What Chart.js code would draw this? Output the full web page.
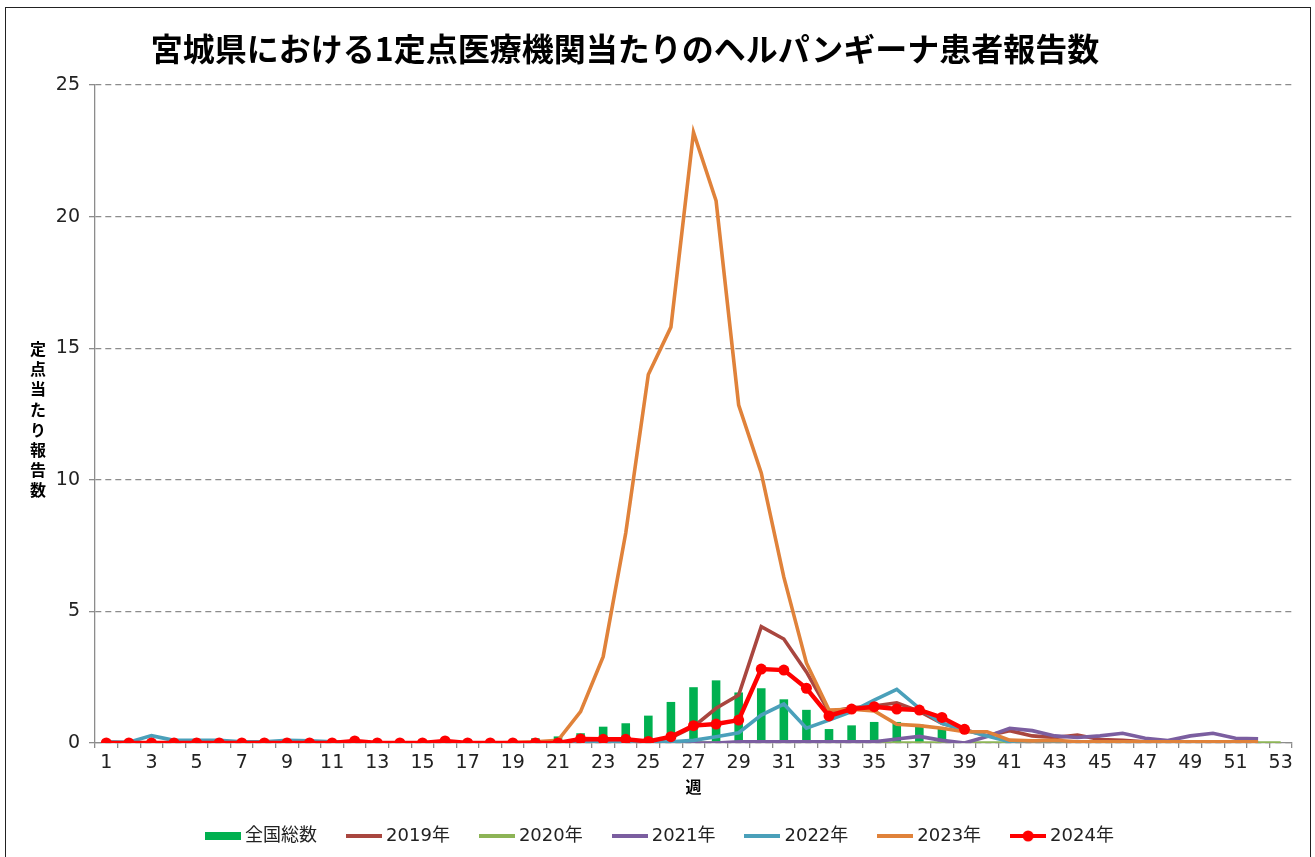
<!DOCTYPE html>
<html>
<head>
<meta charset="utf-8">
<script src="https://cdn.jsdelivr.net/npm/chart.js@4.4.0/dist/chart.umd.min.js"></script>
<style>
  body { margin: 0; background: #fff; }
  #wrap { position: relative; width: 1315px; height: 857px; overflow: hidden; }
  #frame { position: absolute; left: 5px; top: 7px; width: 1306px; height: 900px;
           border: 1.5px solid #222; box-sizing: border-box; }
  #title { position: absolute; left: 0; top: 26px; width: 1250px; text-align: center;
           font: bold 32px "Noto Sans CJK JP", sans-serif; line-height: 42px; color: #000; }
  canvas { position: absolute; left: 0; top: 0; }
</style>
</head>
<body>
<div id="wrap">
  <div id="frame"></div>
  <canvas id="chart" width="1315" height="857"></canvas>
  <div id="title">宮城県における1定点医療機関当たりのヘルパンギーナ患者報告数</div>
</div>
<script>
// 週 (x軸ラベル)
var weeks = [1, 2, 3, 4, 5, 6, 7, 8, 9, 10, 11, 12, 13, 14, 15, 16, 17, 18, 19, 20,
  21, 22, 23, 24, 25, 26, 27, 28, 29, 30, 31, 32, 33, 34, 35, 36, 37, 38, 39, 40,
  41, 42, 43, 44, 45, 46, 47, 48, 49, 50, 51, 52, 53];

// 全国総数 (棒)
var national = [0.02, 0.02, 0.02, 0.02, 0.02, 0.02, 0.02, 0.02, 0.02, 0.02,
  0.02, 0.02, 0.02, 0.02, 0.03, 0.03, 0.04, 0.06, 0.1, 0.18,
  0.25, 0.37, 0.62, 0.75, 1.04, 1.56, 2.12, 2.38, 1.92, 2.08,
  1.66, 1.26, 0.53, 0.67, 0.8, 0.8, 0.7, 0.6];

var y2019 = [0, 0, 0, 0, 0, 0, 0, 0, 0, 0,
  0, 0, 0, 0, 0, 0, 0, 0, 0, 0,
  0, 0, 0, 0, 0.05, 0.2, 0.62, 1.32, 1.82, 4.42,
  3.95, 2.7, 1.19, 1.34, 1.4, 1.53, 1.2, 0.75, 0.5, 0.28,
  0.47, 0.27, 0.21, 0.3, 0.13, 0.1, 0.05, 0.05, 0.03, 0.03,
  0.02, 0.02];

var y2020 = [0, 0, 0, 0, 0, 0, 0, 0, 0, 0,
  0, 0, 0, 0, 0, 0, 0, 0, 0, 0,
  0, 0, 0, 0, 0, 0, 0, 0, 0, 0,
  0, 0, 0, 0, 0, 0, 0, 0, 0, 0,
  0, 0, 0, 0, 0, 0, 0, 0, 0, 0,
  0, 0, 0];

var y2021 = [0, 0, 0, 0, 0, 0, 0, 0, 0, 0,
  0, 0, 0, 0, 0, 0, 0, 0, 0, 0,
  0, 0, 0, 0, 0, 0, 0, 0, 0.05, 0.05,
  0.05, 0.05, 0.05, 0.05, 0.05, 0.15, 0.25, 0.1, 0, 0.25,
  0.56, 0.47, 0.27, 0.21, 0.27, 0.37, 0.18, 0.09, 0.27, 0.37,
  0.18, 0.16];

var y2022 = [0.05, 0.03, 0.28, 0.1, 0.1, 0.1, 0.05, 0.05, 0.1, 0.08,
  0.05, 0.05, 0, 0, 0, 0, 0, 0, 0, 0,
  0, 0, 0, 0, 0.02, 0.05, 0.1, 0.24, 0.39, 1.06,
  1.48, 0.56, 0.87, 1.19, 1.63, 2.04, 1.32, 0.75, 0.49, 0.27,
  0.05, 0.02, 0.02, 0.02, 0.02, 0.02, 0.02, 0.02, 0.02, 0.02,
  0.02, 0.02];

var y2023 = [0, 0, 0, 0, 0, 0, 0, 0, 0, 0,
  0, 0, 0, 0, 0, 0, 0, 0, 0.02, 0.05,
  0.1, 1.19, 3.28, 7.98, 14.0, 15.8, 23.2, 20.6, 12.84, 10.26,
  6.3, 3.04, 1.25, 1.28, 1.22, 0.71, 0.66, 0.56, 0.43, 0.43,
  0.11, 0.08, 0.1, 0.05, 0.05, 0.05, 0.05, 0.05, 0.05, 0.05,
  0.05, 0.05];

var y2024 = [0, 0, 0, 0, 0, 0, 0, 0, 0, 0,
  0, 0.08, 0, 0, 0, 0.08, 0, 0, 0, 0,
  0, 0.15, 0.14, 0.14, 0.06, 0.24, 0.66, 0.72, 0.87, 2.81,
  2.77, 2.08, 1.03, 1.29, 1.38, 1.29, 1.25, 0.97, 0.52];

var yTicks = [0, 5, 10, 15, 20, 25];

var FONT = "'DejaVu Sans', 'Noto Sans CJK JP', sans-serif";
var GRID = '#8c8c8c';

// 凡例の記号を小さなキャンバスで作る
function legendIcon(color, kind) {
  var c = document.createElement('canvas');
  c.width = 36;
  c.height = 12;
  var g = c.getContext('2d');
  g.fillStyle = color;
  if (kind === 'bar') {
    g.fillRect(0, 2, 36, 8);
  } else {
    g.fillRect(0, 4, 36, 4);
    if (kind === 'dot') {
      g.beginPath();
      g.arc(18, 6, 5.5, 0, Math.PI * 2);
      g.fill();
    }
  }
  return c;
}

function lineSet(label, values, color, order) {
  return {
    type: 'line',
    label: label,
    data: values,
    borderColor: color,
    backgroundColor: color,
    borderWidth: 3.6,
    pointRadius: 0,
    tension: 0,
    order: order,
    icon: legendIcon(color, 'line')
  };
}

// y軸タイトル (縦書き) を描く
var verticalTitle = {
  id: 'verticalTitle',
  afterDraw: function (chart) {
    var ctx = chart.ctx;
    var chars = '定点当たり報告数'.split('');
    ctx.save();
    ctx.font = 'bold 16px "Noto Sans CJK JP"';
    ctx.fillStyle = '#000';
    ctx.textAlign = 'center';
    ctx.textBaseline = 'middle';
    chars.forEach(function (ch, i) {
      ctx.fillText(ch, 38, 349 + i * 20.2);
    });
    ctx.restore();
  }
};

var red = {
  type: 'line',
  label: '2024年',
  data: y2024,
  borderColor: '#ff0000',
  backgroundColor: '#ff0000',
  borderWidth: 4.5,
  pointRadius: 5.5,
  pointBorderWidth: 0,
  pointBackgroundColor: '#ff0000',
  tension: 0,
  order: 1,
  icon: legendIcon('#ff0000', 'dot')
};

new Chart(document.getElementById('chart').getContext('2d'), {
  type: 'bar',
  data: {
    labels: weeks,
    datasets: [
      {
        type: 'bar',
        label: '全国総数',
        data: national,
        backgroundColor: '#00b050',
        barPercentage: 0.38,
        categoryPercentage: 1,
        order: 10,
        icon: legendIcon('#00b050', 'bar')
      },
      lineSet('2019年', y2019, '#a9463f', 6),
      lineSet('2020年', y2020, '#8db456', 5),
      lineSet('2021年', y2021, '#7b5ea0', 4),
      lineSet('2022年', y2022, '#4aa0ba', 3),
      lineSet('2023年', y2023, '#e0823a', 2),
      red
    ]
  },
  options: {
    responsive: false,
    animation: false,
    devicePixelRatio: 1,
    layout: { padding: { left: 32, right: 23, top: 85, bottom: 2 } },
    plugins: {
      title: { display: false },
      tooltip: { enabled: false },
      legend: {
        position: 'bottom',
        labels: {
          usePointStyle: true,
          pointStyleWidth: 26,
          padding: 34,
          color: '#222',
          font: { family: FONT, size: 18 },
          generateLabels: function (chart) {
            return chart.data.datasets.map(function (ds, i) {
              return {
                text: ds.label,
                pointStyle: ds.icon,
                datasetIndex: i,
                hidden: false,
                lineWidth: 0,
                fontColor: '#222'
              };
            });
          }
        }
      }
    },
    scales: {
      x: {
        offset: true,
        grid: {
          offset: true,
          drawOnChartArea: false,
          drawTicks: true,
          tickLength: 5,
          color: GRID,
          lineWidth: 1.3
        },
        border: { display: true, color: GRID, width: 1.3 },
        ticks: {
          autoSkip: false,
          maxRotation: 0,
          padding: 4,
          color: '#222',
          font: { family: FONT, size: 19 },
          callback: function (value, index) {
            return weeks[index] % 2 === 1 ? String(weeks[index]) : '';
          }
        },
        title: {
          display: true,
          text: '週',
          color: '#000',
          font: { family: "'Noto Sans CJK JP'", size: 16, weight: 'bold' },
          padding: { top: 0, bottom: -4 }
        },
        afterFit: function (scale) { scale.height = 50; }
      },
      y: {
        min: 0,
        max: 25,
        afterBuildTicks: function (scale) {
          scale.ticks = yTicks.map(function (v) { return { value: v }; });
        },
        grid: {
          color: GRID,
          lineWidth: 1.3,
          tickLength: 6,
          tickColor: GRID,
          tickBorderDash: []
        },
        border: { display: true, color: GRID, width: 1.3, dash: [6, 4] },
        ticks: {
          padding: 9,
          color: '#222',
          font: { family: FONT, size: 19 }
        },
        afterFit: function (scale) { scale.width = 63; }
      }
    }
  },
  plugins: [verticalTitle]
});
</script>
</body>
</html>
